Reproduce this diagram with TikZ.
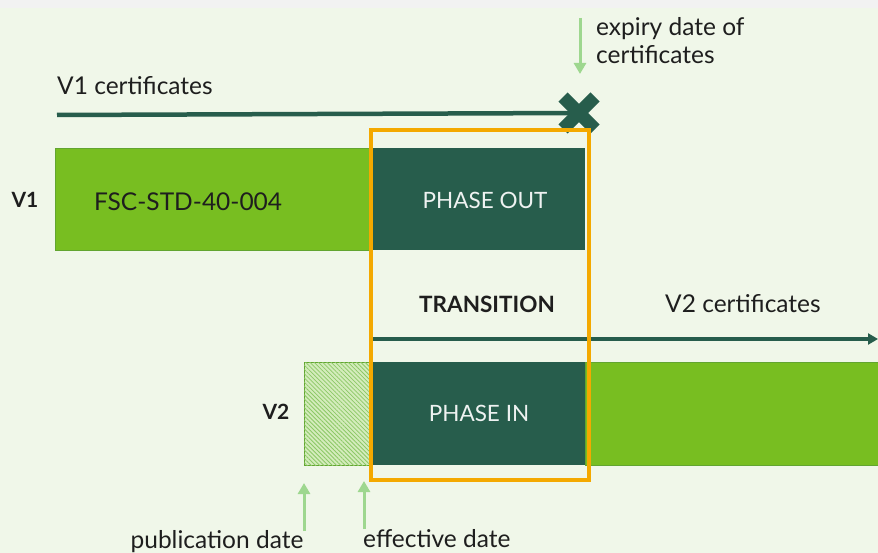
\documentclass[tikz,border=0pt]{standalone}
\usepackage{fontspec}
\setmainfont{Lato}
\usetikzlibrary{arrows.meta,patterns.meta}
\definecolor{bg}{HTML}{F0F7E9}
\definecolor{topgrey}{HTML}{F2F2F2}
\definecolor{dkgreen}{HTML}{275D4C}
\definecolor{ltgreen}{HTML}{78BE21}
\definecolor{barline}{HTML}{62A530}
\definecolor{pale}{HTML}{9ED78F}
\definecolor{frameorange}{HTML}{F4A900}
\definecolor{hatchbg}{HTML}{D4ECBC}
\definecolor{hatchln}{HTML}{8CC866}
\definecolor{inktext}{HTML}{1E1E1E}
\begin{document}
\begin{tikzpicture}[x=1pt,y=-1pt,
  txt/.style={font=\fontsize{24.5}{28}\selectfont, text=inktext, inner sep=0pt},
  boldtxt/.style={font=\fontsize{21}{25}\selectfont\bfseries, text=inktext, inner sep=0pt},
  bar/.style={draw=barline, line width=0.8pt, fill=ltgreen, anchor=north west, inner sep=0pt},
  phasebox/.style={fill=dkgreen, anchor=north west, inner sep=0pt},
  phasetxt/.style={font=\fontsize{22.5}{26}\selectfont, text=white!92!dkgreen, inner sep=0pt},
  timeline/.style={draw=dkgreen, line width=4.5pt},
  marker/.style={draw=pale, line width=3pt, -{Triangle[width=12pt,length=11pt]}},
]
\useasboundingbox (0,0) rectangle (878,553);
% page background
\fill[bg] (0,0) rectangle (878,553);
\fill[topgrey] (0,0) rectangle (878,8);

% V1 row
\node[boldtxt] (v1) at (25,200) {V1};
\node[bar, minimum width=317pt, minimum height=102pt] (v1bar) at (55,148) {};
\node[phasebox, minimum width=213pt, minimum height=102pt] (out) at (372,148) {};
\node[txt, anchor=west] (std) at (94,202) {FSC-STD-40-004};
\node[phasetxt] (outlbl) at (485,200) {PHASE OUT};

% V1 certificates line ending in a cross
\node[txt, anchor=west] (v1cert) at (57,86) {V1 certificates};
\coordinate (v1start) at (57,115);
\coordinate (xmark) at (579,113);
\draw[timeline] (v1start) -- (xmark);
\draw[dkgreen, line width=13pt] ([shift={(-16,-16)}]xmark) -- ([shift={(16,16)}]xmark);
\draw[dkgreen, line width=13pt] ([shift={(16,-16)}]xmark) -- ([shift={(-16,16)}]xmark);

% expiry marker
\node[txt, anchor=west, align=left] (expiry) at (596,41) {expiry date of\\certificates};
\coordinate (expirytop) at (580,18);
\coordinate (expirytip) at (580,74);
\draw[marker] (expirytop) -- (expirytip);

% transition
\node[boldtxt, font=\fontsize{22.5}{26}\selectfont\bfseries] (trans) at (487,304) {TRANSITION};
\node[txt, anchor=west] (v2cert) at (665,304) {V2 certificates};
\coordinate (v2start) at (371,339);
\coordinate (v2end) at (878,339);
\draw[timeline, -{Triangle[width=11pt,length=10pt]}] (v2start) -- (v2end);

% V2 row
\node[boldtxt] (v2) at (276,412) {V2};
\node[anchor=north west, inner sep=0pt, minimum width=68pt, minimum height=103pt,
      draw=barline, line width=0.8pt, fill=hatchbg] (hatch) at (304,362) {};
\fill[pattern={Lines[angle=-45,distance=3pt,line width=0.8pt]}, pattern color=hatchln]
  (hatch.north west) rectangle (hatch.south east);
\node[phasebox, minimum width=213pt, minimum height=103pt] (in) at (372,362) {};
\node[bar, minimum width=300pt, minimum height=103pt] (v2bar) at (585,362) {};
\node[phasetxt] (inlbl) at (479,413) {PHASE IN};

% transition frame
\draw[frameorange, line width=4pt] (371,130) rectangle (589,480);

% date markers
\node[txt, anchor=base] (pub) at (217,548) {publication date};
\node[txt, anchor=base west] (eff) at (363,547) {effective date};
\coordinate (pubfoot) at (304,531);
\coordinate (pubtip) at (304,483);
\coordinate (efffoot) at (364,529);
\coordinate (efftip) at (364,481);
\draw[marker] (pubfoot) -- (pubtip);
\draw[marker] (efffoot) -- (efftip);
\end{tikzpicture}
\end{document}
